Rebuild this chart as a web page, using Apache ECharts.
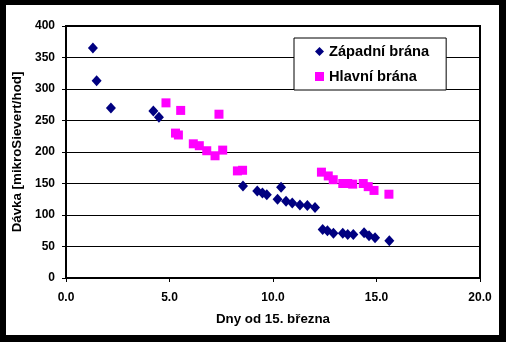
<!DOCTYPE html>
<html>
<head>
<meta charset="utf-8">
<script src="https://cdn.jsdelivr.net/npm/echarts@6/dist/echarts.min.js"></script>
<style>
  html, body { margin: 0; padding: 0; background: #fff; }
  #chart { width: 506px; height: 342px; }
</style>
</head>
<body>
<div id="chart"></div>
<script>
// Dávka v čase – dvě měřicí místa
const seriesNames = ['Západní brána', 'Hlavní brána'];

const zapadniDny = [1.30, 1.48, 2.17, 4.22, 4.49, 8.55, 9.24, 9.49, 9.70, 10.22, 10.39, 10.63, 10.93,
  11.30, 11.66, 12.03, 12.40, 12.63, 12.92, 13.37, 13.61, 13.88, 14.40, 14.64, 14.93, 15.62];
const zapadniDavka = [365, 313, 270, 265, 255, 146, 138, 135, 132, 125, 144, 122, 119,
  116, 115, 112, 77, 75, 71, 71, 69, 69, 72, 67, 64, 59];

const hlavniDny = [4.83, 5.29, 5.43, 5.54, 6.15, 6.44, 6.80, 7.20, 7.39, 7.57, 8.28, 8.53,
  12.34, 12.67, 12.91, 13.37, 13.61, 13.85, 14.36, 14.60, 14.88, 15.60];
const hlavniDavka = [278, 230, 227, 266, 213, 210, 202, 194, 260, 203, 170, 171,
  168, 162, 156, 150, 150, 149, 150, 145, 139, 133];

const xTicks = [0, 5, 10, 15, 20];
const yTicks = [0, 50, 100, 150, 200, 250, 300, 350, 400];

const pairs = (xs, ys) => xs.map((x, i) => [x, ys[i]]);

const chart = echarts.init(document.getElementById('chart'), null, { renderer: 'canvas' });

const FONT = 'Arial, "Liberation Sans", sans-serif';

chart.setOption({
  backgroundColor: '#fff',
  animation: false,
  grid: {
    left: 66, top: 26, right: 26, bottom: 64,
    show: true, borderColor: '#000', borderWidth: 2, backgroundColor: 'transparent'
  },
  legend: {
    orient: 'vertical',
    left: 294, top: 38,
    padding: [6, 17, 6, 21],
    itemGap: 10,
    itemWidth: 9, itemHeight: 9,
    backgroundColor: '#fff',
    borderColor: '#000', borderWidth: 1, borderRadius: 0,
    textStyle: { fontFamily: FONT, fontWeight: 'bold', fontSize: 14.67, color: '#000' },
    data: [
      { name: seriesNames[0], icon: 'diamond' },
      { name: seriesNames[1], icon: 'rect' }
    ]
  },
  xAxis: {
    type: 'value',
    min: xTicks[0], max: xTicks[xTicks.length - 1], interval: 5,
    name: 'Dny od 15. března',
    nameLocation: 'middle', nameGap: 35,
    nameTextStyle: { fontFamily: FONT, fontWeight: 'bold', fontSize: 13.33, color: '#000' },
    axisLine: { show: true, lineStyle: { color: '#000', width: 2 } },
    axisTick: { show: true, inside: false, length: 4, lineStyle: { color: '#000', width: 1 } },
    axisLabel: {
      margin: 14, fontFamily: FONT, fontWeight: 'bold', fontSize: 12, color: '#000',
      formatter: v => v.toFixed(1)
    },
    splitLine: { show: false }
  },
  yAxis: {
    type: 'value',
    min: yTicks[0], max: yTicks[yTicks.length - 1], interval: 50,
    name: 'Dávka [mikroSievert/hod]',
    nameLocation: 'middle', nameGap: 39, nameRotate: 90,
    nameTextStyle: { fontFamily: FONT, fontWeight: 'bold', fontSize: 13.33, color: '#000' },
    axisLine: { show: true, lineStyle: { color: '#000', width: 2 } },
    axisTick: { show: true, inside: false, length: 4, lineStyle: { color: '#000', width: 1 } },
    axisLabel: { margin: 11, fontFamily: FONT, fontWeight: 'bold', fontSize: 12, color: '#000' },
    splitLine: { show: true, lineStyle: { color: '#000', width: 1 } }
  },
  series: [
    {
      name: seriesNames[0],
      type: 'scatter',
      symbol: 'diamond',
      symbolSize: [10, 11],
      itemStyle: { color: '#000080', opacity: 1 },
      data: pairs(zapadniDny, zapadniDavka),
      z: 3
    },
    {
      name: seriesNames[1],
      type: 'scatter',
      symbol: 'rect',
      symbolSize: 9,
      itemStyle: { color: '#FF00FF', opacity: 1 },
      data: pairs(hlavniDny, hlavniDavka),
      z: 2
    }
  ],
  graphic: [
    // black frame round the whole figure
    { type: 'rect', shape: { x: 0, y: 0, width: 506, height: 5 }, style: { fill: '#000' }, z: 100 },
    { type: 'rect', shape: { x: 0, y: 335, width: 506, height: 7 }, style: { fill: '#000' }, z: 100 },
    { type: 'rect', shape: { x: 0, y: 0, width: 6, height: 342 }, style: { fill: '#000' }, z: 100 },
    { type: 'rect', shape: { x: 499, y: 0, width: 7, height: 342 }, style: { fill: '#000' }, z: 100 }
  ]
});
</script>
</body>
</html>
